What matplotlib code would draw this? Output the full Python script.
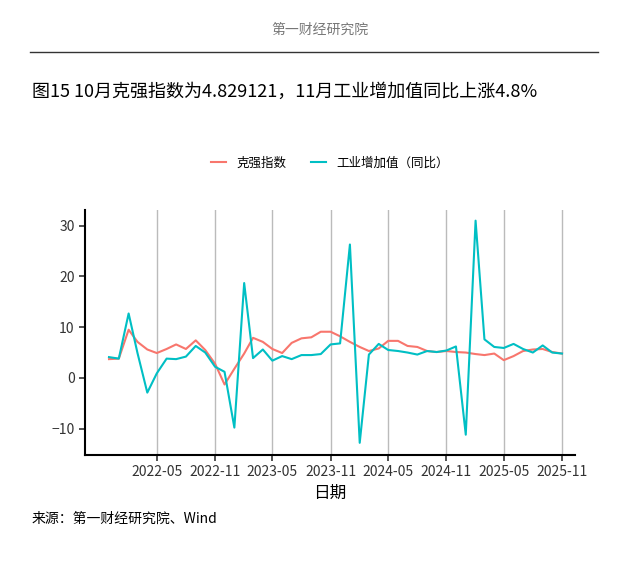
import matplotlib
matplotlib.use("Agg")
import matplotlib.pyplot as plt
import matplotlib.dates as mdates
import pandas as pd

plt.rcParams['font.family'] = ['Noto Sans CJK SC', 'DejaVu Sans']

dates = pd.date_range("2021-12-01", periods=48, freq="MS")
keqiang = [3.7, 3.8, 9.5, 7.1, 5.6, 4.9, 5.7, 6.6, 5.7, 7.4, 5.5, 2.8, -1.3, 1.8, 4.8, 7.9,
           7.1, 5.7, 4.9, 6.9, 7.8, 8.0, 9.1, 9.1, 8.2, 7.1, 6.1, 5.3, 5.8, 7.3, 7.3, 6.3,
           6.1, 5.3, 5.1, 5.3, 5.1, 5.0, 4.7, 4.5, 4.8, 3.5, 4.3, 5.3, 5.6, 5.7, 5.1, 4.8]
industry = [4.1, 3.8, 12.7, 4.9, -2.9, 0.9, 3.8, 3.7, 4.2, 6.3, 5.0, 2.2, 1.2, -9.8, 18.7, 3.9,
            5.6, 3.4, 4.3, 3.7, 4.5, 4.5, 4.7, 6.6, 6.8, 26.3, -12.8, 4.6, 6.7, 5.5, 5.3, 5.0,
            4.6, 5.3, 5.1, 5.4, 6.2, -11.2, 31.0, 7.6, 6.1, 5.9, 6.7, 5.7, 5.0, 6.4, 5.0, 4.8]
tick_dates = pd.date_range("2022-05-01", "2025-11-01", freq="6MS")

fig = plt.figure(figsize=(6.4, 5.63), dpi=100)
ax = fig.add_axes([85/640, 1-455/563, 490/640, 245/563])
ax.plot(dates, keqiang, color="#F8766D", lw=1.5, label="克强指数")
ax.plot(dates, industry, color="#00BFC4", lw=1.5, label="工业增加值（同比）")
ax.set_ylim(-15.2, 33.1)
ax.set_yticks([-10, 0, 10, 20, 30])
d0 = mdates.date2num(dates[0]); d1 = mdates.date2num(dates[-1])
span = d1 - d0
ax.set_xlim(d0 - 24/453*span, d1 + 13/453*span)
ax.set_xticks(tick_dates)
ax.xaxis.set_major_formatter(mdates.DateFormatter("%Y-%m"))
ax.grid(axis="x", color="#BBBBBB", lw=1)
ax.grid(axis="y", visible=False)
for s in ["top", "right"]:
    ax.spines[s].set_visible(False)
for s in ["left", "bottom"]:
    ax.spines[s].set_linewidth(1.5)
ax.tick_params(labelsize=10, colors="#333333", length=4, width=1.2)
ax.set_xlabel("日期", fontsize=12)
ax.legend(loc="lower center", bbox_to_anchor=(0.5, 1.12), ncol=2, frameon=False, fontsize=9,
          handlelength=1.2, columnspacing=2)

fig.text(0.5, 1-30/563, "第一财经研究院", ha="center", va="center", fontsize=10, color="#777777")
fig.add_artist(plt.Line2D([30/640, 598/640], [1-52/563, 1-52/563], color="#333333", lw=1))
fig.text(32/640, 1-92/563, "图15 10月克强指数为4.829121，11月工业增加值同比上涨4.8%",
         ha="left", va="center", fontsize=13)
fig.text(32/640, 1-519/563, "来源：第一财经研究院、Wind", ha="left", va="center", fontsize=10)
fig.savefig("out.png", dpi=100)
